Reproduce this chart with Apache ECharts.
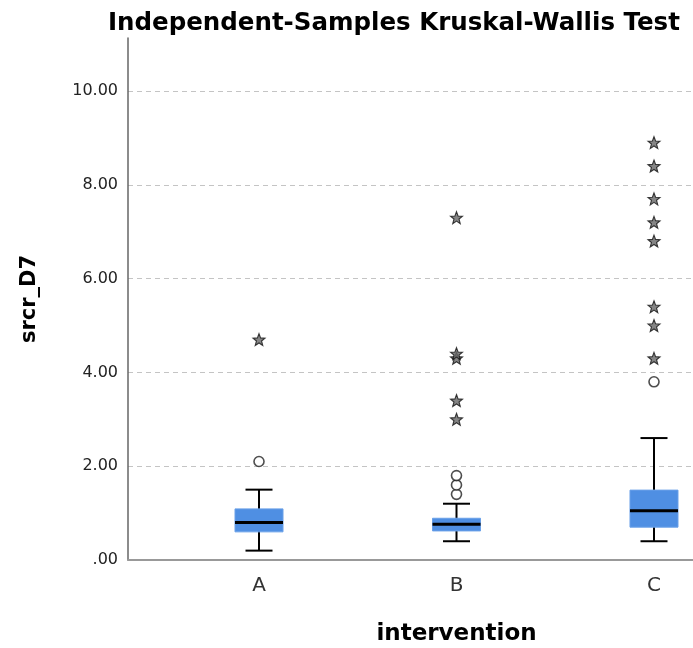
<!DOCTYPE html>
<html>
<head>
<meta charset="utf-8">
<script src="https://cdn.jsdelivr.net/npm/echarts@6/dist/echarts.min.js"></script>
<style>html,body{margin:0;padding:0;background:#fff;}#chart{width:693px;height:648px;}</style>
</head>
<body>
<div id="chart"></div>
<script>
// ---- data ----
var categories = ['A', 'B', 'C'];
var boxMin    = [0.20, 0.40, 0.40];
var boxQ1     = [0.60, 0.62, 0.70];
var boxMedian = [0.80, 0.76, 1.05];
var boxQ3     = [1.09, 0.89, 1.49];
var boxMax    = [1.50, 1.20, 2.60];
var outliersA = [2.10];
var outliersB = [1.40, 1.60, 1.80];
var outliersC = [3.80];
var extremesA = [4.70];
var extremesB = [3.00, 3.40, 4.30, 4.40, 7.30];
var extremesC = [4.30, 5.00, 5.40, 6.80, 7.20, 7.70, 8.40, 8.90];
var yTicks = [0, 2, 4, 6, 8, 10];

// ---- build ----
var boxData = categories.map(function (c, i) {
  return [i + 1, boxMin[i], boxQ1[i], boxMedian[i], boxQ3[i], boxMax[i]];
});
function pts(arr, idx) { return arr.map(function (v) { return [idx, v]; }); }
var circleData = [].concat(pts(outliersA, 1), pts(outliersB, 2), pts(outliersC, 3));
var starData = [].concat(pts(extremesA, 1), pts(extremesB, 2), pts(extremesC, 3));

var STAR = 'path://M12,1 L14.9,8.6 L23,9 L16.7,14 L18.9,22 L12,17.5 L5.1,22 L7.3,14 L1,9 L9.1,8.6 Z';
var FONT = 'DejaVu Sans, sans-serif';

var chart = echarts.init(document.getElementById('chart'), null, { renderer: 'canvas' });
chart.setOption({
  animation: false,
  backgroundColor: '#fff',
  title: {
    text: 'Independent-Samples Kruskal-Wallis Test',
    left: 103, top: 6,
    textStyle: { fontFamily: FONT, fontSize: 24.5, fontWeight: 'bold', color: '#000' }
  },
  grid: { left: 128, top: 38, width: 657, height: 522, outerBoundsMode: 'none', containLabel: false },
  xAxis: {
    type: 'value',
    min: 0.3367, max: 3.6633,
    name: 'intervention',
    nameLocation: 'middle',
    nameGap: 63,
    nameTextStyle: { fontFamily: FONT, fontSize: 23, fontWeight: 'bold', color: '#000' },
    axisLine: { show: true, lineStyle: { color: '#999', width: 2 } },
    axisTick: { show: false },
    splitLine: { show: false },
    axisLabel: {
      customValues: [1, 2, 3],
      formatter: function (v) { return categories[Math.round(v) - 1] || ''; },
      fontFamily: FONT, fontSize: 20, color: '#333', margin: 16
    }
  },
  yAxis: {
    type: 'value',
    min: 0, max: 11.13,
    interval: 2,
    name: 'srcr_D7',
    nameLocation: 'middle',
    nameGap: 88,
    nameTextStyle: { fontFamily: FONT, fontSize: 21, fontWeight: 'bold', color: '#000' },
    axisLine: { show: true, lineStyle: { color: '#666', width: 1.5 } },
    axisTick: { show: false },
    axisLabel: {
      customValues: yTicks,
      formatter: function (v) { return v === 0 ? '.00' : v.toFixed(2); },
      fontFamily: FONT, fontSize: 16, color: '#222', margin: 10,
      padding: [6, 0, 0, 0]
    },
    splitLine: {
      show: true,
      showMaxLine: false,
      lineStyle: { color: '#c4c4c4', width: 1, type: [5, 4] }
    }
  },
  series: [
    {
      type: 'custom',
      data: boxData,
      encode: { x: 0, y: [1, 2, 3, 4, 5] },
      z: 3,
      renderItem: function (params, api) {
        var x = api.value(0);
        var pMin = api.coord([x, api.value(1)]);
        var pQ1 = api.coord([x, api.value(2)]);
        var pMed = api.coord([x, api.value(3)]);
        var pQ3 = api.coord([x, api.value(4)]);
        var pMax = api.coord([x, api.value(5)]);
        var cx = pMed[0];
        var bw = 48, cw = 27;
        var ls = { stroke: '#000', lineWidth: 2 };
        return {
          type: 'group',
          children: [
            { type: 'line', shape: { x1: cx, y1: pMin[1], x2: cx, y2: pMax[1] }, style: ls },
            { type: 'line', shape: { x1: cx - cw / 2, y1: pMin[1], x2: cx + cw / 2, y2: pMin[1] }, style: ls },
            { type: 'line', shape: { x1: cx - cw / 2, y1: pMax[1], x2: cx + cw / 2, y2: pMax[1] }, style: ls },
            { type: 'rect', shape: { x: cx - bw / 2, y: pQ3[1], width: bw, height: pQ1[1] - pQ3[1] },
              style: { fill: '#4f8fe3', stroke: '#6aa0e8', lineWidth: 1 } },
            { type: 'line', shape: { x1: cx - bw / 2, y1: pMed[1], x2: cx + bw / 2, y2: pMed[1] },
              style: { stroke: '#000', lineWidth: 3 } }
          ]
        };
      }
    },
    {
      type: 'scatter',
      data: circleData,
      symbol: 'circle',
      symbolSize: 10,
      z: 4,
      itemStyle: { color: '#fff', borderColor: '#222', borderWidth: 1.6 }
    },
    {
      type: 'scatter',
      data: starData,
      symbol: STAR,
      symbolSize: 12,
      z: 4,
      itemStyle: { color: '#666', borderColor: '#111', borderWidth: 1.1 }
    }
  ]
});
</script>
</body>
</html>
